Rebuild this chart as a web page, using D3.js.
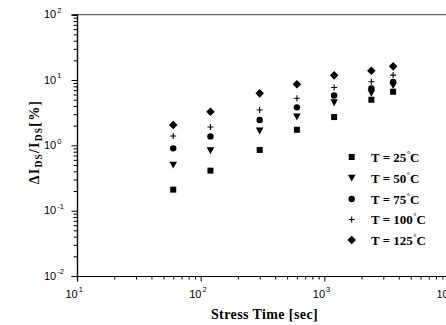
<!DOCTYPE html>
<html><head><meta charset="utf-8">
<script src="https://cdn.jsdelivr.net/npm/d3@7/dist/d3.min.js"></script>
<style>
html,body{margin:0;padding:0;background:#fff;overflow:hidden}
svg{display:block}
</style></head>
<body>
<svg id="c" width="446" height="325"></svg>
<script>
// Data
const stressTimes = [60, 120, 300, 600, 1200, 2400, 3600];
const t25  = [0.21, 0.41, 0.85, 1.73, 2.71, 4.99, 6.62];
const t50  = [0.50, 0.83, 1.67, 2.74, 4.52, 6.32, 8.24];
const t75  = [0.90, 1.37, 2.44, 3.82, 5.79, 7.46, 9.32];
const t100 = [1.39, 1.91, 3.47, 5.25, 7.67, 9.42, 11.9];
const t125 = [2.05, 3.27, 6.25, 8.62, 11.8, 13.9, 16.2];
const seriesNames = ["25", "50", "75", "100", "125"];
const seriesShapes = ["square", "triDown", "circle", "plus", "diamond"];
const xTickExps = [1, 2, 3, 4];
const yTickExps = [-2, -1, 0, 1, 2];

const series = [t25, t50, t75, t100, t125].map((v, i) => ({name: seriesNames[i], shape: seriesShapes[i], values: v}));

const svg = d3.select("#c");
const x = d3.scaleLog().domain([10, 10000]).range([77, 448]);
const y = d3.scaleLog().domain([0.01, 100]).range([276, 14.7]);

// top border (gray)
svg.append("line").attr("x1", x(10)).attr("x2", 446).attr("y1", y(100)).attr("y2", y(100))
  .attr("stroke", "#666").attr("stroke-width", 1.2);

function minors(lo, hi) {
  const out = [];
  for (let e = lo; e < hi; e++) for (let m = 2; m <= 9; m++) out.push(m * Math.pow(10, e));
  return out;
}
const xMajor = xTickExps.map(e => Math.pow(10, e));
const yMajor = yTickExps.map(e => Math.pow(10, e));

// x axis
const gx = svg.append("g").attr("transform", `translate(0,${y(0.01)})`);
gx.call(d3.axisBottom(x).tickValues(minors(1, 4)).tickSize(3.5).tickFormat(""));
gx.call(g => g.append("g").call(d3.axisBottom(x).tickValues(xMajor).tickSize(5.5).tickFormat("")));
gx.selectAll(".domain").attr("stroke", "#000").attr("stroke-width", 1.2);
gx.selectAll(".tick line").attr("stroke", "#000").attr("stroke-width", 1);

// y axis
const gy = svg.append("g").attr("transform", `translate(${x(10)},0)`);
gy.call(d3.axisLeft(y).tickValues(minors(-2, 2)).tickSize(3.5).tickFormat(""));
gy.call(g => g.append("g").call(d3.axisLeft(y).tickValues(yMajor).tickSize(5.5).tickFormat("")));
gy.selectAll(".domain").attr("stroke", "#000").attr("stroke-width", 1.2);
gy.selectAll(".tick line").attr("stroke", "#000").attr("stroke-width", 1);

const tickFont = "'Liberation Sans', Arial, sans-serif";
// x tick labels
xTickExps.forEach(e => {
  const t = svg.append("text").attr("x", x(Math.pow(10, e)) - 11.5).attr("y", 297.5)
    .attr("font-family", tickFont).attr("font-size", 11).attr("fill", "#000");
  t.append("tspan").text("10");
  t.append("tspan").attr("dy", -5.5).attr("dx", 1).attr("font-size", 7.5).text(String(e));
});
// y tick labels
yTickExps.forEach(e => {
  const t = svg.append("text").attr("x", 44).attr("y", y(Math.pow(10, e)) + 3.7)
    .attr("font-family", tickFont).attr("font-size", 11).attr("fill", "#000");
  t.append("tspan").text("10");
  t.append("tspan").attr("dy", -5.5).attr("dx", 1).attr("font-size", 7.5).text(String(e));
});

// markers
function drawMarker(g, shape, cx, cy) {
  if (shape === "square") {
    g.append("rect").attr("x", cx - 3).attr("y", cy - 3).attr("width", 6).attr("height", 6).attr("fill", "#000");
  } else if (shape === "triDown") {
    g.append("path").attr("d", `M${cx-3.8},${cy-3.3}L${cx+3.8},${cy-3.3}L${cx},${cy+3.6}Z`).attr("fill", "#000");
  } else if (shape === "circle") {
    g.append("circle").attr("cx", cx).attr("cy", cy).attr("r", 3.2).attr("fill", "#000");
  } else if (shape === "plus") {
    g.append("path").attr("d", `M${cx-3},${cy}L${cx+3},${cy}M${cx},${cy-3}L${cx},${cy+3}`)
      .attr("stroke", "#000").attr("stroke-width", 1.1).attr("fill", "none");
  } else if (shape === "diamond") {
    g.append("path").attr("d", `M${cx},${cy-4.3}L${cx+4.3},${cy}L${cx},${cy+4.3}L${cx-4.3},${cy}Z`).attr("fill", "#000");
  }
}

const gp = svg.append("g");
series.forEach(s => {
  s.values.forEach((v, i) => drawMarker(gp, s.shape, x(stressTimes[i]), y(v)));
});

// legend
const legendY = [157, 178, 199, 219.5, 240];
const serif = "'Liberation Serif', 'Times New Roman', serif";
series.forEach((s, i) => {
  drawMarker(svg, s.shape, 351.7, legendY[i]);
  const t = svg.append("text").attr("x", 371).attr("y", legendY[i] + 4.5)
    .attr("font-family", serif).attr("font-weight", "bold").attr("font-size", 13).attr("fill", "#000")
    .attr("xml:space", "preserve");
  t.append("tspan").text(`T = ${s.name}`);
  t.append("tspan").attr("dy", -5).attr("dx", 0.5).attr("font-size", 8).text("°");
  t.append("tspan").attr("dy", 5).text("C");
});

// axis titles
svg.append("text").attr("x", 264.5).attr("y", 319).attr("text-anchor", "middle")
  .attr("font-family", serif).attr("font-weight", "bold").attr("font-size", 14).attr("fill", "#000")
  .attr("letter-spacing", 0.4)
  .text("Stress Time [sec]");

const yl = svg.append("text").attr("transform", "translate(39,142) rotate(-90)").attr("text-anchor", "middle")
  .attr("font-family", serif).attr("font-weight", "bold").attr("font-size", 14).attr("fill", "#000")
  .attr("letter-spacing", 1.2);
yl.append("tspan").text("ΔI");
yl.append("tspan").attr("dy", 3).attr("font-size", 9.5).text("DS");
yl.append("tspan").attr("dy", -3).text("/I");
yl.append("tspan").attr("dy", 3).attr("font-size", 9.5).text("DS");
yl.append("tspan").attr("dy", -3).text("[%]");
</script>
</body></html>
